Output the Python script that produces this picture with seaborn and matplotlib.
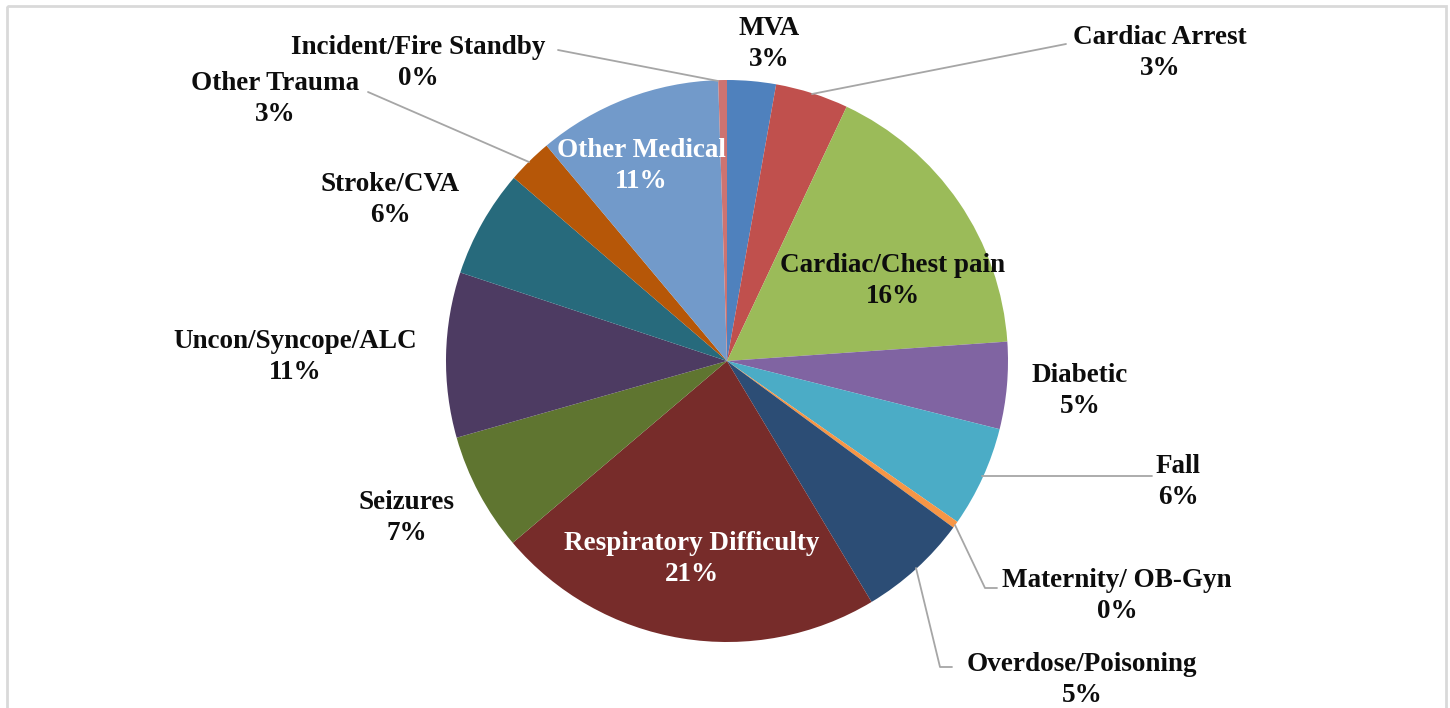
import matplotlib.pyplot as plt
import seaborn as sns
from matplotlib.patches import Rectangle

# slice data, clockwise from 12 o'clock
categories = ["MVA", "Cardiac Arrest", "Cardiac/Chest pain", "Diabetic", "Fall",
              "Maternity/ OB-Gyn", "Overdose/Poisoning", "Respiratory Difficulty",
              "Seizures", "Uncon/Syncope/ALC", "Stroke/CVA", "Other Trauma",
              "Other Medical", "Incident/Fire Standby"]
shares = [2.8, 4.2, 16.9, 5.0, 5.8, 0.4, 6.3, 22.4, 6.8, 9.5, 6.2, 2.6, 10.6, 0.5]
pct_labels = ["3%", "3%", "16%", "5%", "6%", "0%", "5%", "21%", "7%", "11%",
              "6%", "3%", "11%", "0%"]
colors = ["#4F81BD", "#C0504D", "#9BBB59", "#8064A2", "#4BACC6", "#F79646",
          "#2C4D75", "#772C2A", "#5F7530", "#4D3B62", "#276A7C", "#B65708",
          "#729ACA", "#CD7371"]

# label centres in pixels (x, y from top)
label_pos = [(769, 44), (1160, 53), (893, 281), (1080, 391), (1178, 482),
             (1117, 596), (1082, 680), (692, 559), (407, 518), (295, 357),
             (390, 200), (275, 99), (641, 166), (418, 63)]
white_text = ["Respiratory Difficulty", "Other Medical"]

# leader lines
leaders = [
    [(1066, 44), (812, 94)],
    [(982, 476), (1152, 476)],
    [(955, 525), (985, 588), (997, 588)],
    [(916, 568), (940, 667), (952, 667)],
    [(368, 92), (529, 162)],
    [(558, 50), (718, 81)],
]

sns.set_theme(style="white")
plt.rcParams['font.family'] = ['Liberation Serif', 'DejaVu Serif']

W, H = 1450, 708
fig = plt.figure(figsize=(W / 100, H / 100), dpi=100)
ax = fig.add_axes([0, 0, 1, 1])

# y axis is inverted below, so startangle -90 + counterclock draws clockwise from the top
ax.pie(shares, colors=sns.color_palette(colors), startangle=-90, counterclock=True,
       center=(727, 361), radius=281, wedgeprops=dict(linewidth=0))

ax.set_xlim(0, W)
ax.set_ylim(H, 0)
ax.axis("off")

half_line = 15.5
for cat, pct, (x, y) in zip(categories, pct_labels, label_pos):
    c = "white" if cat in white_text else "#0D0D0D"
    ax.text(x, y - half_line, cat, ha="center", va="center", fontsize=19.5,
            fontweight="bold", color=c)
    ax.text(x, y + half_line, pct, ha="center", va="center", fontsize=19.5,
            fontweight="bold", color=c)

for pts in leaders:
    xs, ys = zip(*pts)
    ax.plot(xs, ys, color="#A6A6A6", lw=1.3)

ax.add_patch(Rectangle((7, 6), 1439, 720, fill=False, edgecolor="#D9D9D9", lw=2))

fig.savefig("out.png", dpi=100)
